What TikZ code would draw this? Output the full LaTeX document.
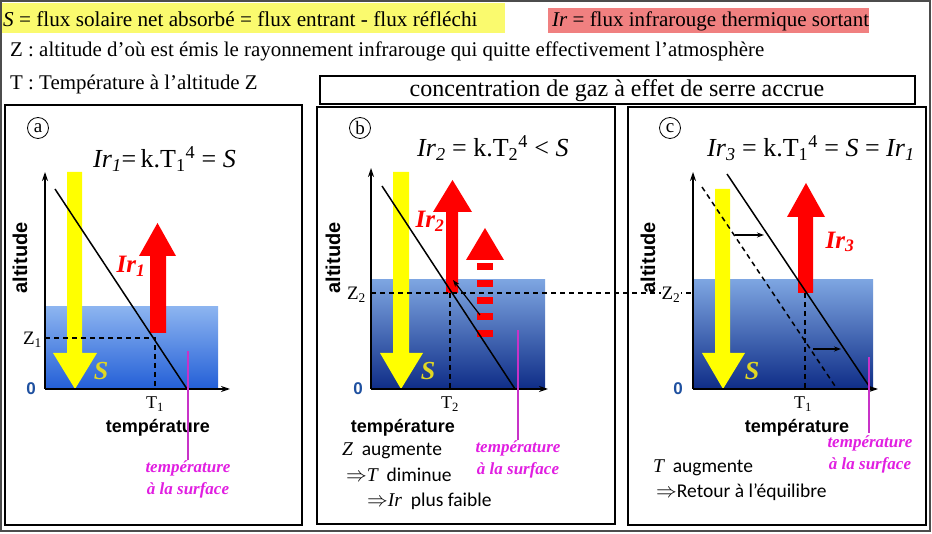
\documentclass[tikz,border=0pt]{standalone}
\usepackage{fontspec}
\setmainfont{Liberation Serif}
\newfontfamily\arialf{Liberation Sans}
\newfontfamily\calibf{Carlito}
\usetikzlibrary{arrows.meta}
\definecolor{hlyellow}{RGB}{250,250,110}
\definecolor{hlpink}{RGB}{240,128,128}
\definecolor{arrred}{RGB}{255,0,0}
\definecolor{arryel}{RGB}{255,255,0}
\definecolor{stxt}{RGB}{225,215,35}
\definecolor{magline}{RGB}{200,50,200}
\definecolor{magtxt}{RGB}{225,30,225}
\definecolor{bluetop}{RGB}{140,180,240}
\definecolor{bluebotA}{RGB}{35,95,215}
\definecolor{bluetopB}{RGB}{125,165,225}
\definecolor{bluebotB}{RGB}{15,45,135}
\definecolor{zeroblue}{RGB}{30,80,160}
\newcommand\fs[1]{\fontsize{#1}{#1}\selectfont}
\newcommand\mi[1]{{\rmfamily\itshape #1}}
\newcommand\tsub[1]{\textsubscript{#1}}
\begin{document}
\begin{tikzpicture}[x=1pt,y=-1pt,
  panelbox/.style={draw=black,line width=2pt},
  axisarrow/.style={line width=1.3pt,-{Stealth[length=9pt,width=6pt]}},
  diagline/.style={line width=1.5pt},
  dashline/.style={line width=1.5pt,dash pattern=on 5pt off 4pt},
  smallarrow/.style={line width=1.2pt,-{Stealth[length=7pt,width=5pt]}},
  yelarrow/.style={fill=arryel},
  redarrow/.style={fill=arrred},
  magl/.style={draw=magline,line width=1.5pt},
  magtext/.style={text=magtxt,font=\fs{17}\bfseries\itshape,align=center,inner sep=0pt},
  temptext/.style={font=\arialf\bfseries\fs{18},inner sep=0pt},
  alttext/.style={font=\arialf\bfseries\fs{20},rotate=90,inner sep=0pt},
  zerotext/.style={font=\arialf\bfseries\fs{17},text=zeroblue,inner sep=0pt},
  stext/.style={font=\fs{26}\bfseries\itshape,text=stxt,inner sep=0pt},
  irtext/.style={font=\fs{25}\bfseries\itshape,text=arrred,inner sep=0pt},
  formula/.style={font=\fs{26},anchor=base west,inner sep=0pt},
  tlabel/.style={font=\fs{18},inner sep=0pt},
  circlet/.style={circle,draw,line width=0.8pt,minimum size=21pt,inner sep=0pt,font=\fs{19}},
  bodytext/.style={font=\calibf\fs{19.5},anchor=base west,inner sep=0pt}
]
\useasboundingbox (0,0) rectangle (932,534);
\fill[white] (0,0) rectangle (932,534);
\draw[black!70,line width=1.2pt] (1,1) rectangle (930,531);

% ---------- header ----------
\fill[hlyellow] (2,3) rectangle (505,33);
\node[anchor=base west,inner sep=0pt,font=\fs{21.2}] (hs) at (3,27) {\textit{S} = flux solaire net absorbé = flux entrant - flux réfléchi};
\fill[hlpink] (548,8) rectangle (869,33);
\node[anchor=base west,inner sep=0pt,font=\fs{21}] (hir) at (552,27) {\textit{Ir} = flux infrarouge thermique sortant};
\node[anchor=base west,inner sep=0pt,font=\fs{20.9}] (hz) at (10,57) {Z : altitude d’où est émis le rayonnement infrarouge qui quitte effectivement l’atmosphère};
\node[anchor=base west,inner sep=0pt,font=\fs{20.9}] (ht) at (10,90) {T : Température à l’altitude Z};
\draw[line width=1.5pt] (320,76) rectangle (915,104);
\node[inner sep=0pt,font=\fs{24}] (conc) at (617,91) {concentration de gaz à effet de serre accrue};

% ---------- panel frames ----------
\draw[panelbox] (5,105) rectangle (302,525);
\draw[panelbox] (317,107) rectangle (615,524);
\draw[panelbox] (628,107) rectangle (926,525);

% ================= panel a =================
\node[circlet] (ca) at (38,128) {a};
\node[formula] (fa) at (93,168) {\textit{Ir}\tsub{\textit{1}}=\,k.T\tsub{1}\textsuperscript{4} = \textit{S}};
\shade[top color=bluetop,bottom color=bluebotA] (45,307) rectangle (218,389);
\fill[yelarrow] (67,172) -- (82,172) -- (82,353) -- (97,353) -- (75,389) -- (53,353) -- (67,353) -- cycle;
\fill[redarrow] (150,333) -- (150,256) -- (139,256) -- (157.5,223) -- (176,256) -- (166,256) -- (166,333) -- cycle;
\coordinate (aL1) at (55,189);
\coordinate (aL2) at (187,389);
\draw[diagline] (aL1) -- (aL2);
\coordinate (aZ) at (45,338);
\coordinate (aP) at (155,338);
\coordinate (aT) at (155,389);
\draw[dashline] (aZ) -- (aP) -- (aT);
\coordinate (ao) at (45,389);
\coordinate (ay) at (45,172);
\coordinate (ax) at (230,389);
\draw[axisarrow] (ao) -- (ay);
\draw[axisarrow] (ao) -- (ax);
\node[anchor=base east,font=\fs{19},inner sep=0pt] (az1) at (42,345) {Z\tsub{1}};
\node[zerotext] (a0) at (31,389) {0};
\node[tlabel] (aT1) at (155,404) {T\tsub{1}};
\node[temptext] (atemp) at (158,428) {température};
\node[alttext] (aalt) at (20,258) {altitude};
\node[stext] (aS) at (101,371) {S};
\node[irtext] (aIr) at (131,266) {Ir\tsub{1}};
\coordinate (am1) at (188,351);
\coordinate (am2) at (188,460);
\draw[magl] (am1) -- (am2);
\node[magtext] (amt) at (188,479) {température\\[5pt]à la surface};

% ================= panel b =================
\node[circlet] (cb) at (360,128) {b};
\node[formula] (fb) at (417,157) {\textit{Ir}\tsub{\textit{2}} = k.T\tsub{2}\textsuperscript{4} < \textit{S}};
\shade[top color=bluetopB,bottom color=bluebotB] (371,280) rectangle (545,389);
\fill[yelarrow] (393,172) -- (409,172) -- (409,353) -- (423,353) -- (401,389) -- (380,353) -- (393,353) -- cycle;
\fill[redarrow] (446,293) -- (446,212) -- (433,212) -- (452.5,180) -- (472,212) -- (458,212) -- (458,293) -- cycle;
\fill[redarrow] (466,260) -- (485,228) -- (504,260) -- cycle;
\foreach \yy in {263,280,297,313,330} {\fill[redarrow] (477,\yy) rectangle (493,\yy+7);}
\coordinate (bL1) at (382,186);
\coordinate (bL2) at (515,389);
\draw[diagline] (bL1) -- (bL2);
\coordinate (bA1) at (480,315);
\coordinate (bA2) at (453,280);
\draw[smallarrow] (bA1) -- (bA2);
\coordinate (bZ) at (371,293);
\coordinate (cP) at (805,293);
\coordinate (bP) at (450,293);
\coordinate (bT) at (450,389);
\draw[dashline] (bZ) -- (cP);
\draw[dashline] (bP) -- (bT);
\coordinate (bo) at (371,389);
\coordinate (by) at (371,168);
\coordinate (bx) at (548,389);
\draw[axisarrow] (bo) -- (by);
\draw[axisarrow] (bo) -- (bx);
\node[anchor=base east,font=\fs{19},inner sep=0pt,fill=white] (bz2) at (366,300) {Z\tsub{2}};
\node[zerotext] (b0) at (358,389) {0};
\node[tlabel] (bT2) at (450,404) {T\tsub{2}};
\node[temptext] (btemp) at (403,428) {température};
\node[alttext] (balt) at (333,258) {altitude};
\node[stext] (bS) at (428,371) {S};
\node[irtext] (bIr) at (430,221) {Ir\tsub{2}};
\coordinate (bm1) at (518,330);
\coordinate (bm2) at (518,440);
\draw[magl] (bm1) -- (bm2);
\node[magtext] (bmt) at (518,459) {température\\[5pt]à la surface};
\node[bodytext] (bt1) at (342,456) {\mi{Z}\ \ augmente};
\node[bodytext] (bt2) at (346,481) {$\Rightarrow$\mi{T}\ \ diminue};
\node[bodytext] (bt3) at (367,506) {$\Rightarrow$\mi{Ir}\ \ plus faible};

% ================= panel c =================
\node[circlet] (cc) at (670,128) {c};
\node[formula] (fc) at (707,157) {\textit{Ir}\tsub{\textit{3}} = k.T\tsub{1}\textsuperscript{4} = \textit{S} = \textit{Ir}\tsub{\textit{1}}};
\shade[top color=bluetopB,bottom color=bluebotB] (693,280) rectangle (873,389);
\fill[yelarrow] (715,189) -- (730,189) -- (730,353) -- (745,353) -- (723,389) -- (702,353) -- (715,353) -- cycle;
\fill[redarrow] (798,293) -- (798,217) -- (787,217) -- (806,183) -- (825,217) -- (813,217) -- (813,293) -- cycle;
\coordinate (cL1) at (727,174);
\coordinate (cL2) at (871,389);
\draw[diagline] (cL1) -- (cL2);
\coordinate (cD1) at (702,187);
\coordinate (cD2) at (837,389);
\draw[dashline] (cD1) -- (cD2);
\coordinate (cA1) at (735,235);
\coordinate (cA2) at (764,235);
\draw[smallarrow] (cA1) -- (cA2);
\coordinate (cB1) at (813,349);
\coordinate (cB2) at (841,349);
\draw[smallarrow] (cB1) -- (cB2);
\coordinate (cT) at (805,389);
\draw[dashline] (cP) -- (cT);
\coordinate (co) at (693,389);
\coordinate (cy) at (693,172);
\coordinate (cx) at (878,389);
\draw[axisarrow] (co) -- (cy);
\draw[axisarrow] (co) -- (cx);
\node[font=\fs{19},inner sep=1pt,fill=white] (cz2) at (671,295) {Z\tsub{2}};
\node[zerotext] (c0) at (678,389) {0};
\node[tlabel] (cT1) at (803,404) {T\tsub{1}};
\node[temptext] (ctemp) at (797,428) {température};
\node[alttext] (calt) at (648,258) {altitude};
\node[stext] (cS) at (752,371) {S};
\node[irtext] (cIr) at (840,242) {Ir\tsub{3}};
\coordinate (cm1) at (869,357);
\coordinate (cm2) at (869,433);
\draw[magl] (cm1) -- (cm2);
\node[magtext] (cmt) at (870,454) {température\\[5pt]à la surface};
\node[bodytext] (ct1) at (653,472) {\mi{T}\ \ augmente};
\node[bodytext] (ct2) at (656,497) {$\Rightarrow$Retour à l’équilibre};
\end{tikzpicture}
\end{document}
